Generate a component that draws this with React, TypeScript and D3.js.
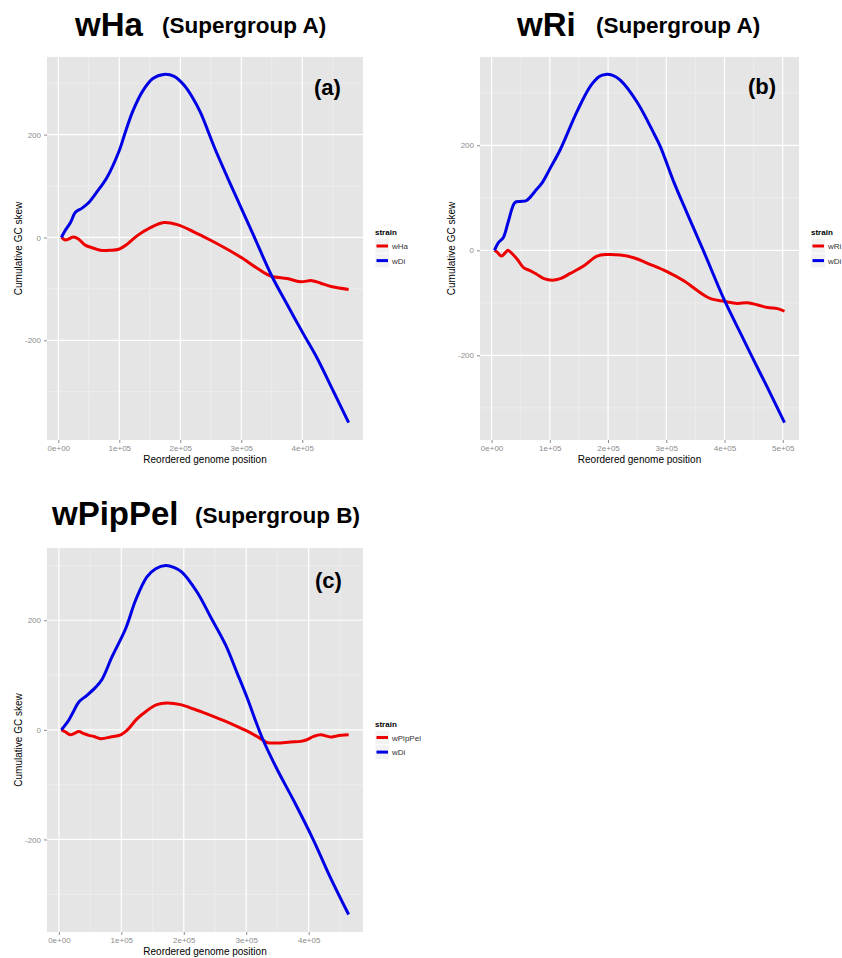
import { useEffect, useRef } from "react";
import * as d3 from "d3";

// [position, cumulative GC skew]
const wHaSkew = [
  [5000, 0], [11500, -5], [17000, -3], [25000, 1], [33000, -3], [44000, -15],
  [58000, -21], [69000, -25], [85000, -25], [99000, -23], [113000, -13],
  [129000, 3], [151000, 19], [173000, 29], [195000, 25], [222000, 11],
  [249000, -5], [277000, -23], [304000, -42], [326000, -60], [348000, -75],
  [375000, -80], [397000, -86], [416000, -84], [430000, -89], [449000, -96],
  [476000, -101],
];
const wDiSkewA = [
  [5000, 0], [11500, 14], [20000, 29], [28000, 49], [39000, 57], [50000, 68],
  [63000, 88], [80000, 117], [99000, 166], [110000, 205], [122000, 245],
  [138000, 284], [155000, 309], [173000, 317], [190000, 313], [207000, 295],
  [220000, 272], [233000, 243], [257000, 172], [287000, 91], [319000, 7],
  [350000, -75], [375000, -130], [402000, -188], [424000, -234], [451000, -299],
  [476000, -360],
];
const wRiSkew = [
  [5000, 0], [10000, -4], [17000, -11], [24000, -4], [28000, 0], [35000, -6],
  [44000, -17], [55000, -33], [67000, -39], [78000, -46], [90000, -54],
  [104000, -57], [118000, -54], [135000, -44], [158000, -30], [181000, -11],
  [199000, -8], [221000, -9], [244000, -14], [273000, -27], [302000, -41],
  [330000, -58], [359000, -81], [376000, -92], [399000, -97], [422000, -101],
  [439000, -100], [457000, -104], [474000, -109], [491000, -111], [503000, -116],
];
const wDiSkewB = [
  [5000, 0], [12000, 15], [20000, 24], [29000, 56], [40000, 91], [49000, 93],
  [60000, 95], [75000, 113], [87000, 129], [101000, 157], [118000, 192],
  [147000, 265], [170000, 313], [185000, 331], [196000, 335], [208000, 333],
  [221000, 324], [250000, 282], [279000, 222], [290000, 197], [313000, 130],
  [336000, 70], [365000, -4], [399000, -93], [428000, -159], [451000, -211],
  [474000, -262], [503000, -328],
];
const wPipPelSkew = [
  [4000, 0], [11000, -4], [18000, -9], [24000, -7], [32000, -3], [40000, -7],
  [48000, -10], [56000, -12], [67000, -16], [83000, -13], [99000, -9],
  [109000, -1], [125000, 20], [141000, 35], [157000, 46], [173000, 49],
  [195000, 46], [216000, 38], [237000, 29], [259000, 19], [280000, 9],
  [301000, -2], [323000, -16], [333000, -23], [349000, -24], [371000, -22],
  [387000, -21], [397000, -18], [408000, -12], [419000, -9], [435000, -13],
  [445000, -11], [464000, -9],
];
const wDiSkewC = [
  [4000, 0], [16000, 18], [24000, 35], [32000, 51], [45000, 63], [59000, 78],
  [69000, 92], [85000, 133], [107000, 185], [123000, 237], [141000, 279],
  [155000, 294], [171000, 300], [185000, 296], [197000, 288], [221000, 252],
  [243000, 206], [267000, 155], [285000, 105], [301000, 60], [325000, -13],
  [349000, -71], [376000, -129], [408000, -202], [435000, -270], [464000, -337],
];

const strains = ["wHa", "wRi", "wPipPel"];
const titles = ["wHa", "wRi", "wPipPel"];
const subtitles = ["(Supergroup A)", "(Supergroup A)", "(Supergroup B)"];
const panelTags = ["(a)", "(b)", "(c)"];
const yTicks = [-200, 0, 200];
const xTicksA = [0, 100000, 200000, 300000, 400000];
const xTicksB = [0, 100000, 200000, 300000, 400000, 500000];
const xTickLabels = ["0e+00", "1e+05", "2e+05", "3e+05", "4e+05", "5e+05"];

const FONT = "'Liberation Sans', Arial, Helvetica, sans-serif";
const RED = "#ee0000";
const BLUE = "#0000e6";

const panels = [
  {
    strain: strains[0], red: wHaSkew, blue: wDiSkewA, xTicks: xTicksA,
    title: titles[0], sub: subtitles[0], tag: panelTags[0],
    left: 47, right: 363, top: 57, bottom: 440,
    titleX: 75, titleY: 36, subX: 162, subY: 33, tagX: 314, tagY: 95,
  },
  {
    strain: strains[1], red: wRiSkew, blue: wDiSkewB, xTicks: xTicksB,
    title: titles[1], sub: subtitles[1], tag: panelTags[1],
    left: 480, right: 799, top: 57, bottom: 440,
    titleX: 517, titleY: 36, subX: 596, subY: 33, tagX: 748, tagY: 94,
  },
  {
    strain: strains[2], red: wPipPelSkew, blue: wDiSkewC, xTicks: xTicksA,
    title: titles[2], sub: subtitles[2], tag: panelTags[2],
    left: 47, right: 363, top: 548, bottom: 932,
    titleX: 52, titleY: 525, subX: 195, subY: 523, tagX: 315, tagY: 588,
  },
];

const expand = (lo, hi) => {
  const pad = (hi - lo) * 0.05;
  return [lo - pad, hi + pad];
};

const App = () => {
  const svgRef = useRef(null);

  useEffect(() => {
    const svg = d3.select(svgRef.current);
    svg.selectAll("*").remove();

    panels.forEach((p) => {
      const all = p.red.concat(p.blue);
      const x = d3
        .scaleLinear()
        .domain(expand(d3.min(all, (d) => d[0]), d3.max(all, (d) => d[0])))
        .range([p.left, p.right]);
      const y = d3
        .scaleLinear()
        .domain(expand(d3.min(all, (d) => d[1]), d3.max(all, (d) => d[1])))
        .range([p.bottom, p.top]);

      const g = svg.append("g");

      // panel background
      g.append("rect")
        .attr("x", p.left)
        .attr("y", p.top)
        .attr("width", p.right - p.left)
        .attr("height", p.bottom - p.top)
        .attr("fill", "#e5e5e5");

      // minor grid
      const [x0, x1] = x.domain();
      const [y0, y1] = y.domain();
      const xMinor = d3.range(-50000, 600000, 100000).filter((v) => v > x0 && v < x1);
      const yMinor = d3.range(-500, 600, 200).filter((v) => v > y0 && v < y1);
      g.selectAll(".xminor")
        .data(xMinor)
        .enter()
        .append("line")
        .attr("x1", (d) => x(d))
        .attr("x2", (d) => x(d))
        .attr("y1", p.top)
        .attr("y2", p.bottom)
        .attr("stroke", "#f2f2f2")
        .attr("stroke-width", 0.6);
      g.selectAll(".yminor")
        .data(yMinor)
        .enter()
        .append("line")
        .attr("x1", p.left)
        .attr("x2", p.right)
        .attr("y1", (d) => y(d))
        .attr("y2", (d) => y(d))
        .attr("stroke", "#f2f2f2")
        .attr("stroke-width", 0.6);

      // major grid
      g.selectAll(".xmajor")
        .data(p.xTicks)
        .enter()
        .append("line")
        .attr("x1", (d) => x(d))
        .attr("x2", (d) => x(d))
        .attr("y1", p.top)
        .attr("y2", p.bottom)
        .attr("stroke", "#ffffff")
        .attr("stroke-width", 1.2);
      g.selectAll(".ymajor")
        .data(yTicks)
        .enter()
        .append("line")
        .attr("x1", p.left)
        .attr("x2", p.right)
        .attr("y1", (d) => y(d))
        .attr("y2", (d) => y(d))
        .attr("stroke", "#ffffff")
        .attr("stroke-width", 1.2);

      // lines
      const line = d3
        .line()
        .x((d) => x(d[0]))
        .y((d) => y(d[1]))
        .curve(d3.curveCatmullRom.alpha(0.5));
      [
        [p.red, RED],
        [p.blue, BLUE],
      ].forEach(([data, color]) => {
        g.append("path")
          .attr("d", line(data))
          .attr("fill", "none")
          .attr("stroke", color)
          .attr("stroke-width", 3)
          .attr("stroke-linejoin", "round")
          .attr("stroke-linecap", "butt");
      });

      // axes
      const xAxis = d3
        .axisBottom(x)
        .tickValues(p.xTicks)
        .tickSize(3)
        .tickPadding(2)
        .tickFormat((d, i) => xTickLabels[i]);
      const xg = g
        .append("g")
        .attr("transform", `translate(0,${p.bottom})`)
        .call(xAxis);
      xg.select(".domain").remove();
      xg.selectAll("line").attr("stroke", "#8c8c8c");
      xg.selectAll("text")
        .attr("fill", "#8c8c8c")
        .attr("font-size", 8)
        .attr("font-family", FONT);

      const yAxis = d3
        .axisLeft(y)
        .tickValues(yTicks)
        .tickSize(3)
        .tickPadding(3)
        .tickFormat((d) => String(d));
      const yg = g
        .append("g")
        .attr("transform", `translate(${p.left},0)`)
        .call(yAxis);
      yg.select(".domain").remove();
      yg.selectAll("line").attr("stroke", "#8c8c8c");
      yg.selectAll("text")
        .attr("fill", "#8c8c8c")
        .attr("font-size", 8)
        .attr("font-family", FONT);

      // axis titles
      g.append("text")
        .attr("x", (p.left + p.right) / 2)
        .attr("y", p.bottom + 22.5)
        .attr("text-anchor", "middle")
        .attr("font-family", FONT)
        .attr("font-size", 10)
        .text("Reordered genome position");
      g.append("text")
        .attr("transform", "rotate(-90)")
        .attr("x", -(p.top + p.bottom) / 2)
        .attr("y", p.left - 25)
        .attr("text-anchor", "middle")
        .attr("font-family", FONT)
        .attr("font-size", 10)
        .text("Cumulative GC skew");

      // titles
      g.append("text")
        .attr("x", p.titleX)
        .attr("y", p.titleY)
        .attr("font-family", FONT)
        .attr("font-weight", "bold")
        .attr("font-size", 33)
        .text(p.title);
      g.append("text")
        .attr("x", p.subX)
        .attr("y", p.subY)
        .attr("font-family", FONT)
        .attr("font-weight", "bold")
        .attr("font-size", 22.5)
        .text(p.sub);
      g.append("text")
        .attr("x", p.tagX)
        .attr("y", p.tagY)
        .attr("font-family", FONT)
        .attr("font-weight", "bold")
        .attr("font-size", 22)
        .text(p.tag);

      // legend
      const cy = (p.top + p.bottom) / 2;
      const lx = p.right + 12;
      g.append("text")
        .attr("x", lx)
        .attr("y", cy - 13.5)
        .attr("font-family", FONT)
        .attr("font-weight", "bold")
        .attr("font-size", 8)
        .text("strain");
      [
        [p.strain, RED],
        ["wDi", BLUE],
      ].forEach(([name, color], i) => {
        const ry = cy - 2.5 + i * 14.6;
        g.append("rect")
          .attr("x", lx)
          .attr("y", ry - 7.3)
          .attr("width", 14.5)
          .attr("height", 14.6)
          .attr("fill", "#f2f2f2")
          .attr("stroke", "#ffffff")
          .attr("stroke-width", 0.8);
        g.append("line")
          .attr("x1", lx + 1.5)
          .attr("x2", lx + 13)
          .attr("y1", ry)
          .attr("y2", ry)
          .attr("stroke", color)
          .attr("stroke-width", 3);
        g.append("text")
          .attr("x", lx + 17)
          .attr("y", ry + 3)
          .attr("font-family", FONT)
          .attr("font-size", 8)
          .attr("fill", "#333333")
          .text(name);
      });
    });
  }, []);

  return (
    <svg
      ref={svgRef}
      width={842}
      height={958}
      style={{ position: "absolute", left: 0, top: 0, background: "#ffffff" }}
    ></svg>
  );
};

export default App;
